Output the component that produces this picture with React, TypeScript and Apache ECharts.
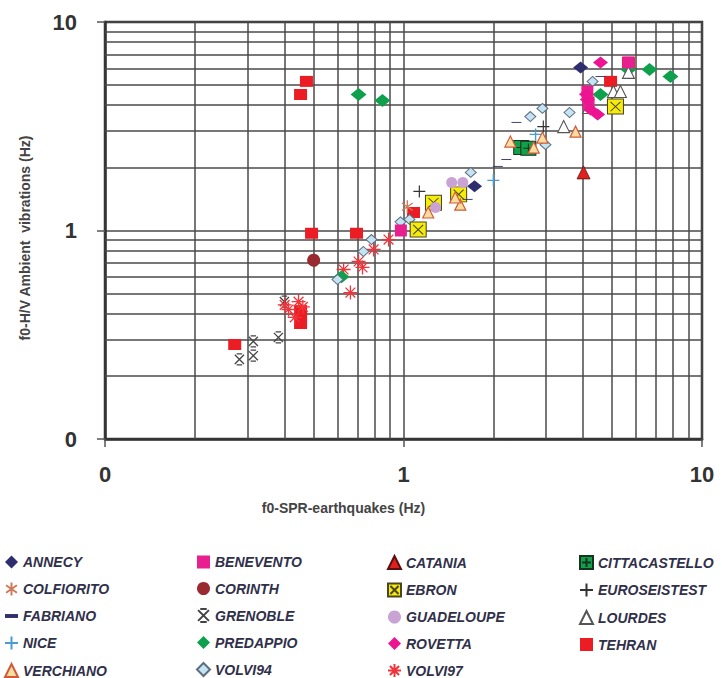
import { useEffect, useRef } from "react";
import * as echarts from "echarts";

// f0 pairs per site: [f0 from earthquake spectral ratio, f0 from ambient-vibration H/V] in Hz
const ANNECY = [[3.92, 6.05], [1.73, 1.63]];
const BENEVENTO = [[0.98, 1.0], [4.13, 4.64], [4.17, 4.11], [5.67, 6.4]];
const CATANIA = [[4.01, 1.9]];
const CITTACASTELLO = [[2.48, 2.5], [2.62, 2.48]];
const COLFIORITO = [[1.03, 1.3]];
const CORINTH = [[0.5, 0.72]];
const EBRON = [[1.12, 1.01], [1.26, 1.36], [1.53, 1.49], [5.13, 3.93]];
const EUROSEISTEST = [[1.13, 1.54], [2.94, 3.15]];
const FABRIANO = [[2.07, 2.03], [2.21, 2.19], [2.39, 3.3], [4.57, 5.48], [1.64, 1.41]];
const GRENOBLE = [[0.282, 0.241], [0.314, 0.294], [0.314, 0.251], [0.381, 0.307], [0.399, 0.456]];
const GUADELOUPE = [[1.28, 1.29], [1.45, 1.7], [1.58, 1.7]];
const LOURDES = [[3.44, 3.15], [5.05, 4.64], [5.33, 4.64], [5.67, 5.73], [4.17, 3.89]];
const NICE = [[2.0, 1.74], [2.77, 2.89]];
const PREDAPPIO = [[0.707, 4.49], [0.85, 4.2], [0.62, 0.6], [5.67, 5.92], [6.67, 5.92], [7.84, 5.48], [4.57, 4.49]];
const ROVETTA = [[4.13, 4.25], [4.23, 3.8], [4.47, 3.6], [4.57, 6.4], [4.1, 4.5]];
const TEHRAN = [[0.272, 0.284], [0.452, 4.49], [0.473, 5.19], [0.492, 0.97], [0.696, 0.97], [0.452, 0.413], [0.452, 0.383], [0.452, 0.358], [1.08, 1.22], [4.94, 5.19], [5.67, 6.4]];
const VERCHIANO = [[1.21, 1.22], [1.55, 1.33], [1.49, 1.44], [2.28, 2.67], [2.73, 2.5], [2.92, 2.79], [3.77, 2.98]];
const VOLVI94 = [[0.601, 0.582], [0.734, 0.793], [0.781, 0.905], [0.977, 1.1], [1.047, 1.13], [1.68, 1.9], [2.66, 3.52], [2.92, 3.85], [3.6, 3.68], [2.99, 2.58], [4.3, 5.19]];
const VOLVI97 = [[0.412, 0.418], [0.445, 0.456], [0.432, 0.383], [0.664, 0.504], [0.63, 0.65], [0.707, 0.71], [0.729, 0.665], [0.794, 0.811], [0.891, 0.905], [0.4, 0.44], [0.46, 0.43]];

// intermediate log-grid values inside each decade
const MINOR_TICKS = [0.2, 0.3, 0.4, 0.5, 0.6, 0.7, 0.8, 0.9, 2, 3, 4, 5, 6, 7, 8, 9];

// legend columns, read top to bottom
const LEGEND_COLUMNS = [
  ["ANNECY", "COLFIORITO", "FABRIANO", "NICE", "VERCHIANO"],
  ["BENEVENTO", "CORINTH", "GRENOBLE", "PREDAPPIO", "VOLVI94"],
  ["CATANIA", "EBRON", "GUADELOUPE", "ROVETTA", "VOLVI97"],
  ["CITTACASTELLO", "EUROSEISTEST", "LOURDES", "TEHRAN"],
];
const LEGEND_LEFT = [4, 196, 387, 579];

const FONT = "'Liberation Sans', Arial, Helvetica, sans-serif";

const SQUARE_PLUS = "path://M0 0H16V16H0Z M8 2.5V13.5 M2.5 8H13.5";
const SQUARE_CROSS = "path://M0 0H16V16H0Z M3 3L13 13 M13 3L3 13";
const PLUS = "path://M6 0V12 M0 6H12";
const DASH = "path://M0 0H12V3.6H0Z";
const STAR6 = "path://M6 0V12 M1 2.5L11 9.5 M11 2.5L1 9.5";
const STAR8 = "path://M6 0V12 M0 6H12 M1.8 1.8L10.2 10.2 M10.2 1.8L1.8 10.2";
const BARRED_X = "path://M3 0H9 M3 12H9 M1 1L11 11 M11 1L1 11 M5 6H7";

type Style = { symbol: string; size: number | number[]; itemStyle: any };

const STYLES: Record<string, Style> = {
  TEHRAN: { symbol: "rect", size: [13, 11], itemStyle: { color: "#ec1c24" } },
  CORINTH: { symbol: "circle", size: 13, itemStyle: { color: "#982a30" } },
  GRENOBLE: { symbol: BARRED_X, size: 11, itemStyle: { color: "rgba(0,0,0,0)", borderColor: "#444", borderWidth: 1.3 } },
  VOLVI97: { symbol: STAR8, size: 14, itemStyle: { color: "rgba(0,0,0,0)", borderColor: "#f0343a", borderWidth: 1.3 } },
  COLFIORITO: { symbol: STAR6, size: 13, itemStyle: { color: "rgba(0,0,0,0)", borderColor: "#cf7a5a", borderWidth: 1.4 } },
  PREDAPPIO: { symbol: "diamond", size: [16, 13], itemStyle: { color: "#0ea04c" } },
  VOLVI94: { symbol: "diamond", size: [11, 10], itemStyle: { color: "#c4e3f3", borderColor: "#5e6e80", borderWidth: 1 } },
  CITTACASTELLO: { symbol: SQUARE_PLUS, size: [15, 14], itemStyle: { color: "#12a04a", borderColor: "#15331e", borderWidth: 1 } },
  EBRON: { symbol: SQUARE_CROSS, size: [16, 15], itemStyle: { color: "#f6ec0c", borderColor: "#4a4520", borderWidth: 1 } },
  GUADELOUPE: { symbol: "circle", size: 11, itemStyle: { color: "#c9a3d3" } },
  VERCHIANO: { symbol: "triangle", size: 11, itemStyle: { color: "#f7dea0", borderColor: "#d25a3a", borderWidth: 1.2 } },
  LOURDES: { symbol: "triangle", size: 12, itemStyle: { color: "#ffffff", borderColor: "#555", borderWidth: 1.1 } },
  EUROSEISTEST: { symbol: PLUS, size: 12, itemStyle: { color: "rgba(0,0,0,0)", borderColor: "#333", borderWidth: 1.2 } },
  NICE: { symbol: PLUS, size: 12, itemStyle: { color: "rgba(0,0,0,0)", borderColor: "#4b9bd0", borderWidth: 1.4 } },
  FABRIANO: { symbol: DASH, size: [10, 3], itemStyle: { color: "#2f2f6a" } },
  CATANIA: { symbol: "triangle", size: 13, itemStyle: { color: "#e0201f", borderColor: "#5a1010", borderWidth: 0.8 } },
  ANNECY: { symbol: "diamond", size: [15, 12], itemStyle: { color: "#2e2d6e" } },
  BENEVENTO: { symbol: "rect", size: 12, itemStyle: { color: "#e8208f" } },
  ROVETTA: { symbol: "diamond", size: [15, 12], itemStyle: { color: "#ec1490" } },
};

// drawing order (later entries sit on top)
const SITES: [string, number[][]][] = [
  ["TEHRAN", TEHRAN],
  ["CORINTH", CORINTH],
  ["GRENOBLE", GRENOBLE],
  ["VOLVI97", VOLVI97],
  ["COLFIORITO", COLFIORITO],
  ["PREDAPPIO", PREDAPPIO],
  ["VOLVI94", VOLVI94],
  ["CITTACASTELLO", CITTACASTELLO],
  ["EBRON", EBRON],
  ["GUADELOUPE", GUADELOUPE],
  ["VERCHIANO", VERCHIANO],
  ["LOURDES", LOURDES],
  ["EUROSEISTEST", EUROSEISTEST],
  ["NICE", NICE],
  ["FABRIANO", FABRIANO],
  ["CATANIA", CATANIA],
  ["BENEVENTO", BENEVENTO],
  ["ROVETTA", ROVETTA],
  ["ANNECY", ANNECY],
];

const logLabel = (v: number) => (v < 0.5 ? "0" : String(Math.round(v)));

function buildOption(): any {
  const axisCommon = {
    type: "log",
    logBase: 10,
    min: 0.1,
    max: 10,
    axisLine: { show: true, lineStyle: { color: "#333", width: 2.5 } },
    axisTick: { show: true, inside: false, length: 8, lineStyle: { color: "#555", width: 1.5 } },
    splitLine: { show: true, lineStyle: { color: "#4a4a4a", width: 1.5 } },
    minorTick: { show: false },
    minorSplitLine: { show: false },
    nameLocation: "middle",
    nameTextStyle: { fontFamily: FONT, fontWeight: "bold", fontSize: 14, color: "#444" },
  };

  const gridSeries = {
    type: "scatter",
    name: "grid",
    data: [],
    silent: true,
    z: 1,
    markLine: {
      silent: true,
      z: 1,
      animation: false,
      symbol: ["none", "none"],
      label: { show: false },
      emphasis: { disabled: true },
      lineStyle: { color: "#4a4a4a", width: 1.5, type: "solid" },
      data: [
        ...MINOR_TICKS.map((v) => ({ xAxis: v })),
        ...MINOR_TICKS.map((v) => ({ yAxis: v })),
      ],
    },
  };

  const siteSeries = SITES.map(([name, data]) => {
    const st = STYLES[name];
    return {
      type: "scatter",
      name,
      data,
      symbol: st.symbol,
      symbolSize: st.size,
      symbolKeepAspect: true,
      itemStyle: { ...st.itemStyle, opacity: 1 },
      z: 3,
      emphasis: { disabled: true },
    };
  });

  return {
    animation: false,
    backgroundColor: "#ffffff",
    grid: {
      left: 105,
      right: 20,
      top: 22,
      bottom: 239,
      show: true,
      borderColor: "#333",
      borderWidth: 2.5,
      backgroundColor: "transparent",
    },
    xAxis: {
      ...axisCommon,
      name: "f0-SPR-earthquakes (Hz)",
      nameGap: 62,
      nameTextStyle: { ...axisCommon.nameTextStyle, padding: [0, 120, 0, 0] },
      axisLabel: {
        formatter: logLabel,
        margin: 24,
        fontFamily: FONT,
        fontWeight: "bold",
        fontSize: 22,
        color: "#333",
      },
    },
    yAxis: {
      ...axisCommon,
      name: "f0-H/V Ambient  vibrations (Hz)",
      nameGap: 73,
      nameTextStyle: { ...axisCommon.nameTextStyle, padding: [0, 15, 0, 0] },
      axisLabel: {
        formatter: logLabel,
        margin: 28,
        fontFamily: FONT,
        fontWeight: "bold",
        fontSize: 22,
        color: "#333",
      },
    },
    legend: LEGEND_COLUMNS.map((names, i) => ({
      orient: "vertical",
      left: LEGEND_LEFT[i],
      top: 555,
      width: 180,
      height: 140,
      padding: 0,
      itemWidth: 13,
      itemHeight: 13,
      itemGap: 12.5,
      selectedMode: false,
      data: names,
      textStyle: {
        fontFamily: FONT,
        fontWeight: "bold",
        fontStyle: "italic",
        fontSize: 14,
        lineHeight: 14,
        color: "#30304a",
      },
    })),
    series: [gridSeries, ...siteSeries],
  };
}

export default function App() {
  const ref = useRef<HTMLDivElement>(null);
  useEffect(() => {
    if (!ref.current) return;
    const chart = echarts.init(ref.current, null, { renderer: "svg" });
    chart.setOption(buildOption());
    return () => chart.dispose();
  }, []);
  return (
    <div
      ref={ref}
      style={{ position: "absolute", left: 0, top: 0, width: 722, height: 678, background: "#fff" }}
    />
  );
}
